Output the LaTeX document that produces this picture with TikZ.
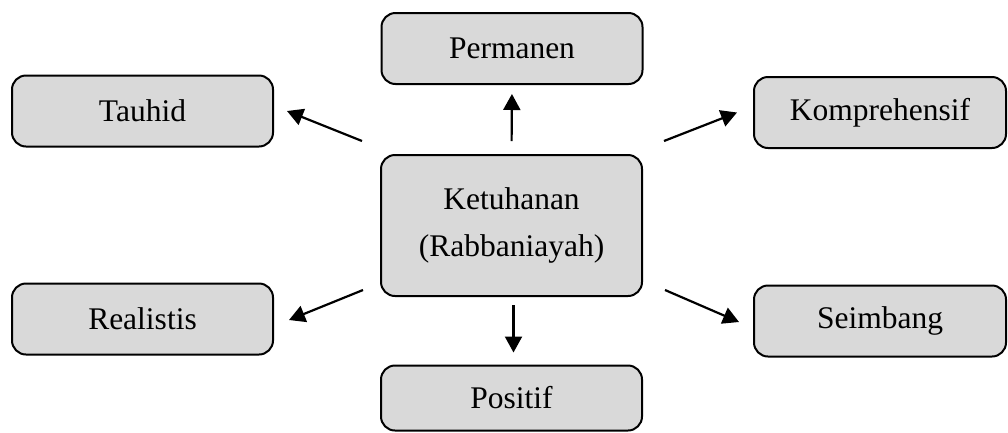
\documentclass[tikz,border=0pt]{standalone}
\usepackage{fontspec}
\setmainfont{Liberation Serif}
\usetikzlibrary{arrows.meta,calc}
\begin{document}
\begin{tikzpicture}[x=1pt,y=-1pt,
  box/.style={draw=black,line width=2pt,fill=boxgray,rounded corners=14pt,
    minimum width=261pt,minimum height=71pt,inner sep=0pt,
    font=\fontsize{31.5}{47}\selectfont,align=center},
  arr/.style={line width=2.2pt,-{Triangle[length=16pt,width=17pt]}}]
\definecolor{boxgray}{HTML}{D9D9D9}
\useasboundingbox (0,0) rectangle (1008,432);
\node[box,minimum height=141pt] (c) at (511.5,225.5) {Ketuhanan\\(Rabbaniayah)};
\node[box] (perm) at (512,48.5) {Permanen};
\node[box] (tau) at (142.5,111) {Tauhid};
\node[box,minimum width=252pt] (komp) at (880,112.5) {Komprehensif};
\node[box] (real) at (142.5,319) {Realistis};
\node[box,minimum width=252pt] (seim) at (880,321) {Seimbang};
\node[box,minimum height=65pt] (pos) at (511.5,398) {Positif};
\draw[arr,shorten <=13pt,shorten >=9pt] (c.north) -- (perm.south);
\draw[arr,shorten <=8pt,shorten >=12pt] ([xshift=2pt]c.south) -- ([xshift=2pt]pos.north);
\draw[arr] ($(c.north west)+(-18,-13)$) -- ($(tau.east)+(13,0)$);
\draw[arr] ($(c.north east)+(21,-13)$) -- ($(komp.west)+(-16,0)$);
\draw[arr] ($(c.south west)+(-17,-7)$) -- ($(real.east)+(15,1)$);
\draw[arr] ($(c.south east)+(22,-7)$) -- ($(seim.west)+(-14,1)$);
\end{tikzpicture}
\end{document}
